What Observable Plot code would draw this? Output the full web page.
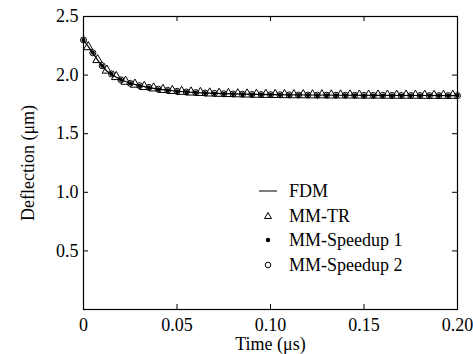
<!DOCTYPE html>
<html><head><meta charset="utf-8">
<script src="https://cdn.jsdelivr.net/npm/d3@7"></script>
<script src="https://cdn.jsdelivr.net/npm/@observablehq/plot@0.6"></script>
<style>
body{margin:0;background:#fff;}
#chart{position:relative;width:473px;height:354px;font-family:"Liberation Serif","Times New Roman","DejaVu Serif",serif;}
#chart svg text{font-family:"Liberation Serif","Times New Roman","DejaVu Serif",serif !important;}
#legend{position:absolute;left:255px;top:179px;font-size:18px;line-height:24.5px;color:#000;}
#legend .row{display:flex;align-items:center;height:24.5px;}
#legend svg{width:26px;height:20px;margin-right:8px;overflow:visible;}
</style>
</head><body><div id="chart"><div id="legend"></div></div>
<script>
// FDM reference curve
const fdmTime = [0,0.0025,0.005,0.0075,0.01,0.0125,0.015,0.02,0.025,0.03,0.035,0.04,0.05,0.06,0.07,0.08,0.10,0.12,0.14,0.16,0.18,0.20];
const fdmDefl = [2.30,2.245,2.19,2.13,2.075,2.035,2.005,1.96,1.93,1.91,1.893,1.88,1.862,1.851,1.844,1.839,1.833,1.830,1.828,1.827,1.826,1.825];
// MM-Speedup 1 and MM-Speedup 2 samples
const spTime = [0,0.005,0.01,0.015,0.02,0.025,0.03,0.035,0.04,0.045,0.05,0.055,0.06,0.065,0.07,0.075,0.08,0.085,0.09,0.095,0.10,0.105,0.11,0.115,0.12,0.125,0.13,0.135,0.14,0.145,0.15,0.155,0.16,0.165,0.17,0.175,0.18,0.185,0.19,0.195,0.20];
const sp1Defl = [2.30,2.19,2.08,2.01,1.96,1.93,1.91,1.895,1.88,1.87,1.862,1.856,1.851,1.847,1.844,1.841,1.839,1.837,1.835,1.834,1.833,1.832,1.831,1.830,1.830,1.829,1.829,1.828,1.828,1.828,1.827,1.827,1.827,1.826,1.826,1.826,1.826,1.825,1.825,1.825,1.825];
const sp2Defl = [2.30,2.19,2.08,2.01,1.96,1.93,1.91,1.895,1.88,1.87,1.862,1.856,1.851,1.847,1.844,1.841,1.839,1.837,1.835,1.834,1.833,1.832,1.831,1.830,1.830,1.829,1.829,1.828,1.828,1.828,1.827,1.827,1.827,1.826,1.826,1.826,1.826,1.825,1.825,1.825,1.825];
// MM-TR samples
const trTime = [0.0025,0.0075,0.0125,0.0175,0.0225,0.0275,0.0325,0.0375,0.0425,0.0475,0.0525,0.0575,0.0625,0.0675,0.0725,0.0775,0.0825,0.0875,0.0925,0.0975,0.1025,0.1075,0.1125,0.1175,0.1225,0.1275,0.1325,0.1375,0.1425,0.1475,0.1525,0.1575,0.1625,0.1675,0.1725,0.1775,0.1825,0.1875,0.1925,0.1975];
const trDefl = [2.24,2.13,2.04,1.985,1.945,1.92,1.90,1.888,1.875,1.866,1.859,1.853,1.849,1.845,1.842,1.840,1.838,1.836,1.834,1.833,1.832,1.831,1.830,1.830,1.829,1.829,1.828,1.828,1.828,1.827,1.827,1.827,1.826,1.826,1.826,1.826,1.825,1.825,1.825,1.825];
// ticks and legend
const xTicks = [0,0.05,0.10,0.15,0.20];
const xTickLabels = ["0","0.05","0.10","0.15","0.20"];
const yTicks = [0.5,1.0,1.5,2.0,2.5];
const yTickLabels = ["0.5","1.0","1.5","2.0","2.5"];
const legendNames = ["FDM","MM-TR","MM-Speedup 1","MM-Speedup 2"];

const fdm = fdmTime.map((t,i)=>({t, v: fdmDefl[i]}));
const sp1 = spTime.map((t,i)=>({t, v: sp1Defl[i]}));
const sp2 = spTime.map((t,i)=>({t, v: sp2Defl[i]}));
const tr = trTime.map((t,i)=>({t, v: trDefl[i]}));

const font = '"Liberation Serif","Times New Roman","DejaVu Serif",serif';
const W = 473, H = 354, mL = 83, mR = 16, mT = 16, mB = 45;
const pw = W - mL - mR, ph = H - mT - mB, tk = 5;

const chart = Plot.plot({
  width: W, height: H,
  marginLeft: mL, marginRight: mR, marginTop: mT, marginBottom: mB,
  style: {fontFamily: font, fontSize: "18px", color: "#000", background: "#fff"},
  x: {domain: [0, 0.2], label: null},
  y: {domain: [0, 2.5], label: null},
  marks: [
    // inward ticks
    Plot.tickX(xTicks, {x: d=>d, insetTop: ph - tk, stroke: "#000"}),
    Plot.tickX(xTicks, {x: d=>d, insetBottom: ph - tk, stroke: "#000"}),
    Plot.tickY(yTicks, {y: d=>d, insetRight: pw - tk, stroke: "#000"}),
    Plot.tickY(yTicks, {y: d=>d, insetLeft: pw - tk, stroke: "#000"}),
    Plot.frame({stroke: "#000", strokeWidth: 1.2}),
    // labels
    Plot.axisX(xTicks, {anchor: "bottom", tickSize: 0, tickPadding: 9, tickFormat: (d,i)=>xTickLabels[i], fontSize: 18, fill: "#000", label: "Time (μs)", labelAnchor: "center", labelOffset: 40, labelArrow: "none"}),
    Plot.axisY(yTicks, {anchor: "left", tickSize: 0, tickPadding: 5, tickFormat: (d,i)=>yTickLabels[i], fontSize: 18, fill: "#000", label: "Deflection (μm)", labelAnchor: "center", labelOffset: 62, labelArrow: "none"}),
    // data
    Plot.line(fdm, {x: "t", y: "v", stroke: "#000", strokeWidth: 1.2}),
    Plot.dot(sp1, {x: "t", y: "v", r: 2, fill: "#000", stroke: "none"}),
    Plot.dot(sp2, {x: "t", y: "v", r: 3, fill: "none", stroke: "#000", strokeWidth: 1}),
    Plot.dot(tr, {x: "t", y: "v", symbol: "triangle", r: 3.5, fill: "none", stroke: "#000", strokeWidth: 1})
  ]
});
document.getElementById("chart").appendChild(chart);

// legend
const icons = [
  '<line x1="4" x2="22" y1="10" y2="10" stroke="#000" stroke-width="1"/>',
  '<path d="M13,6.5L16.5,12.5L9.5,12.5Z" fill="none" stroke="#000" stroke-width="1"/>',
  '<circle cx="13" cy="10" r="2.2" fill="#000"/>',
  '<circle cx="13" cy="10" r="2.8" fill="none" stroke="#000" stroke-width="1"/>'
];
const legend = document.getElementById("legend");
legendNames.forEach((name,i)=>{
  const row = document.createElement("div");
  row.className = "row";
  row.innerHTML = `<svg viewBox="0 0 26 20">${icons[i]}</svg><span>${name}</span>`;
  legend.appendChild(row);
});
</script>
</body></html>
